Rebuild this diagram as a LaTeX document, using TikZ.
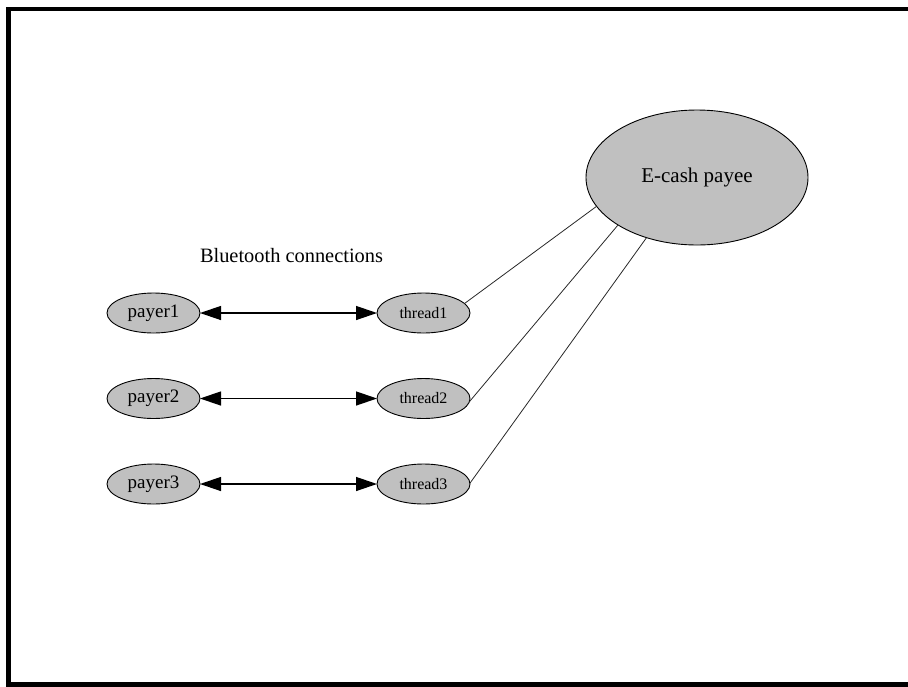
\documentclass[tikz,border=0pt]{standalone}
\usepackage{fontspec}
\setmainfont{Liberation Serif}
\usetikzlibrary{shapes.geometric,arrows.meta}
\begin{document}
\begin{tikzpicture}[x=1pt,y=-1pt,
  gnode/.style={ellipse,draw=black,line width=0.9pt,fill={rgb,255:red,192;green,192;blue,192},inner sep=0pt,outer sep=0pt},
  small/.style={gnode,minimum width=93pt,minimum height=40pt},
  ptxt/.style={font=\fontsize{19}{21}\selectfont},
  ttxt/.style={font=\fontsize{16}{18}\selectfont},
  bidir/.style={line width=1.3pt,{Triangle[length=21pt,width=14pt]}-{Triangle[length=21pt,width=14pt]}},
  link/.style={line width=0.8pt,draw={rgb,255:red,40;green,40;blue,40}}]
\useasboundingbox (0,0) rectangle (908,686);
\draw[line width=4.5pt] (910,9.2) -- (8.5,9.2) -- (8.5,684.5) -- (910,684.5);
\node[gnode,minimum width=222pt,minimum height=135pt,font=\fontsize{21}{23}\selectfont] (payee) at (697,177.5) {E-cash payee};
\node[font=\fontsize{20.4}{22}\selectfont] (bt) at (291.5,256) {Bluetooth connections};
\node[small,ptxt] (p1) at (153.5,313) {payer1};
\node[small,ptxt] (p2) at (153.5,398.5) {payer2};
\node[small,ptxt] (p3) at (153.5,484) {payer3};
\node[small,ttxt] (t1) at (423.5,313) {thread1};
\node[small,ttxt] (t2) at (423.5,398.5) {thread2};
\node[small,ttxt] (t3) at (423.5,484) {thread3};
\draw[bidir] (p1) -- (t1);
\draw[bidir] (p2) -- (t2);
\draw[bidir] (p3) -- (t3);
\draw[link] (t1.13) -- (payee.196.7);
\draw[link] (t2.-4) -- (payee.211.8);
\draw[link] (t3.1) -- (payee.230);
\end{tikzpicture}
\end{document}
